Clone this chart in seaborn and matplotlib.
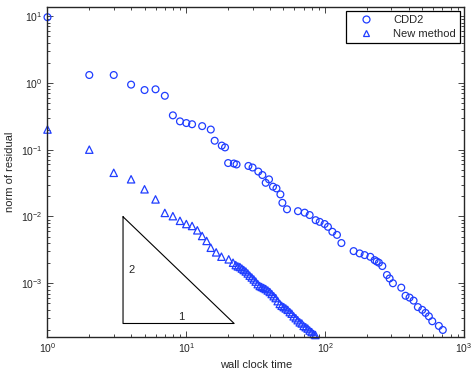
import numpy as np
import pandas as pd
import seaborn as sns
import matplotlib
matplotlib.use("Agg")
import matplotlib.pyplot as plt
from matplotlib.lines import Line2D

# CDD2 convergence (wall clock time, norm of residual)
cdd2_time = [1, 2, 3, 4, 5, 6, 7, 8, 9, 10, 11, 13, 15, 16, 18, 19, 20, 22, 23,
             28, 30, 33, 35.3, 37.3, 39.4, 42.1, 44.6, 47.6, 49.2, 53.1, 63.7,
             71.2, 77.3, 85.4, 91.3, 99.1, 104.7, 112.7, 121.6, 130.9, 160.3,
             177.1, 192.4, 211.5, 227.0, 235.0, 243.8, 258.0, 278.6, 291.2,
             307.6, 353.3, 379.4, 405.3, 433.3, 465.3, 500.3, 528.5, 558.5,
             590.6, 659.2, 703.6]
cdd2_res = [9.6, 1.31, 1.31, 0.94, 0.78, 0.80, 0.64, 0.326, 0.265, 0.25, 0.24,
            0.225, 0.20, 0.136, 0.115, 0.108, 0.063, 0.062, 0.060, 0.057, 0.054,
            0.047, 0.0417, 0.0319, 0.0359, 0.0279, 0.0263, 0.0214, 0.0160,
            0.0128, 0.0120, 0.0114, 0.0105, 0.0088, 0.0083, 0.0077, 0.0070,
            0.0059, 0.0053, 0.0040, 0.00303, 0.00280, 0.00264, 0.00249,
            0.00222, 0.00212, 0.00203, 0.00181, 0.00133, 0.00118, 0.00100,
            0.00086, 0.00065, 0.00061, 0.00055, 0.00044, 0.00040, 0.00036,
            0.00032, 0.00027, 0.00023, 0.00020]

# New method convergence
new_time = [1, 2, 3, 4, 5, 6, 7, 8, 9, 10, 11, 12, 13, 14, 15, 16.4, 17.9,
            20.2, 21.7, 22.7, 23.5, 24.3, 25.1, 25.9, 26.8, 27.7, 28.6, 29.6,
            30.6, 31.6, 32.7, 33.8, 34.9, 36.1, 37.3, 38.6, 39.9, 41.2, 42.6,
            44.0, 45.5, 47.1, 48.6, 50.3, 52.0, 53.7, 55.6, 57.4, 59.3, 61.4,
            63.4, 65.6, 67.8, 70.0, 72.4, 74.8, 77.3, 79.9, 82.6, 85.0]
new_res = [0.2, 0.1, 0.045, 0.036, 0.0255, 0.018, 0.0113, 0.0101, 0.0086,
           0.0077, 0.0072, 0.0062, 0.0051, 0.0043, 0.0034, 0.0029, 0.0025,
           0.00228, 0.00203, 0.00187, 0.00179, 0.00175, 0.00166, 0.00158,
           0.00150, 0.00140, 0.00130, 0.00122, 0.00114, 0.00106, 0.00097,
           0.00091, 0.00088, 0.00085, 0.00082, 0.00078, 0.00074, 0.00069,
           0.00064, 0.00060, 0.00054, 0.00049, 0.00046, 0.00044, 0.00042,
           0.00040, 0.00037, 0.00035, 0.00032, 0.00030, 0.00028, 0.00026,
           0.00025, 0.00023, 0.00022, 0.00021, 0.000196, 0.000186, 0.000174,
           0.000168]

# slope-2 reference triangle
tri_x = [3.5, 3.5, 22.1, 3.5]
tri_y = [0.0099, 0.00025, 0.00025, 0.0099]

sns.set_style("ticks")
plt.rcParams["font.family"] = ["Liberation Sans", "DejaVu Sans"]
plt.rcParams["mathtext.fontset"] = "custom"
plt.rcParams["mathtext.rm"] = "Liberation Sans"
plt.rcParams["mathtext.it"] = "Liberation Sans:italic"

df_cdd = pd.DataFrame({"t": cdd2_time, "r": cdd2_res})
df_new = pd.DataFrame({"t": new_time, "r": new_res})

fig = plt.figure(figsize=(4.74, 3.69), dpi=100)
ax = fig.add_axes([0.1002, 0.0875, 0.8787, 0.8935])

blue = "#1f3dff"
sns.scatterplot(data=df_cdd, x="t", y="r", ax=ax, marker="o", s=24,
                facecolors="none", edgecolor=blue, linewidth=0.9, clip_on=False)
sns.scatterplot(data=df_new, x="t", y="r", ax=ax, marker="^", s=28,
                facecolors="none", edgecolor=blue, linewidth=0.9, clip_on=False)

ax.plot(tri_x, tri_y, color="black", lw=0.8)
ax.text(4.0, 0.0016, "2", fontsize=8, ha="center", va="center")
ax.text(9.2, 0.00031, "1", fontsize=8, ha="center", va="center")

ax.set_xscale("log")
ax.set_yscale("log")
ax.set_xlim(1, 1000)
ax.set_ylim(10 ** -3.8, 10 ** 1.135)
ax.set_xlabel("wall clock time", fontsize=8, labelpad=3)
ax.set_ylabel("norm of residual", fontsize=8, labelpad=4)

for s in ax.spines.values():
    s.set_visible(True)
    s.set_linewidth(1.0)
ax.tick_params(which="both", direction="in", top=True, right=True,
               labelsize=7.5, width=0.6)
ax.tick_params(which="major", length=4)
ax.tick_params(which="minor", length=2)

handles = [
    Line2D([], [], marker="o", ls="", mfc="none", mec=blue, ms=5, mew=0.9),
    Line2D([], [], marker="^", ls="", mfc="none", mec=blue, ms=5, mew=0.9),
]
leg = ax.legend(handles, ["CDD2", "New method"], loc="upper right",
                fontsize=8, frameon=True, fancybox=False, framealpha=1,
                edgecolor="black", borderpad=0.4, labelspacing=0.3,
                handletextpad=1.0, handlelength=2.8, borderaxespad=0.35)
leg.get_frame().set_linewidth(0.9)

fig.savefig("out.png", dpi=100)
